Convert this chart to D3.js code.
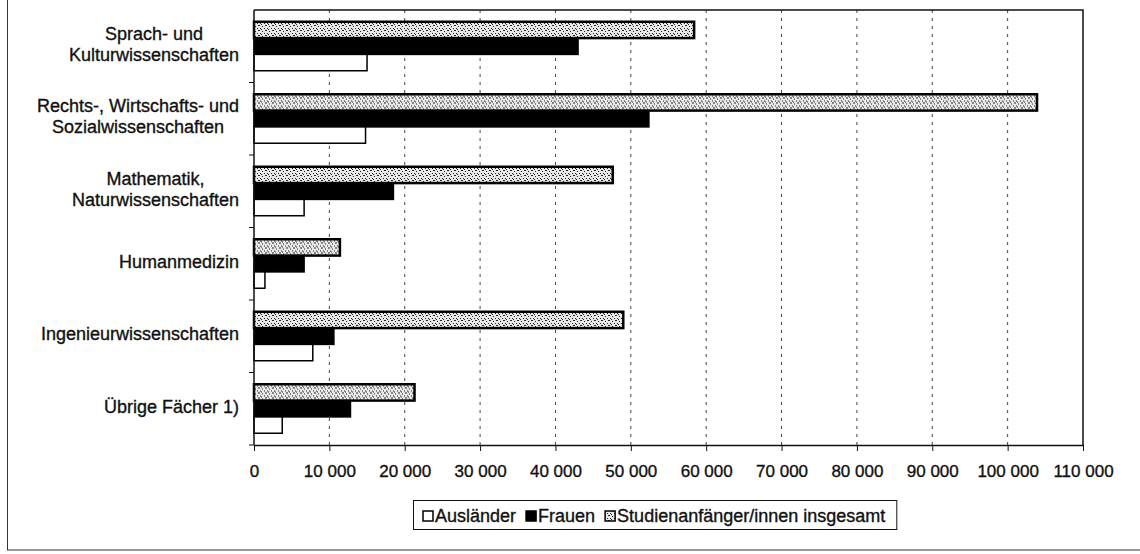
<!DOCTYPE html>
<html lang="de">
<head>
<meta charset="utf-8">
<title>Studienanfänger nach Fächergruppen</title>
<script src="https://cdn.jsdelivr.net/npm/d3@7"></script>
<style>
  body { margin: 0; background: #fff; }
  text { font-family: "Liberation Sans", Arial, sans-serif; fill: #111; stroke: #111; stroke-width: 0.35px; }
</style>
</head>
<body>
<script>
// Fächergruppen, von oben nach unten ("\n" = Zeilenumbruch in der Beschriftung)
var categories = [
  "Sprach- und\nKulturwissenschaften",
  "Rechts-, Wirtschafts- und\nSozialwissenschaften",
  "Mathematik,\nNaturwissenschaften",
  "Humanmedizin",
  "Ingenieurwissenschaften",
  "Übrige Fächer 1)"
];
var series = ["Ausländer", "Frauen", "Studienanfänger/innen insgesamt"];

// Werte je Fächergruppe
var auslaender = [15000, 14800, 6650, 1450, 7800, 3750];
var frauen     = [43000, 52400, 18500, 6650, 10600, 12800];
var insgesamt  = [58400, 103900, 47600, 11400, 49000, 21300];

var xTicks = [0, 10000, 20000, 30000, 40000, 50000, 60000, 70000, 80000, 90000, 100000, 110000];

var W = 1140, H = 554;
var plotL = 254, plotR = 1083, plotT = 10, plotB = 445;

var fmt = d3.formatLocale({ decimal: ",", thousands: " ", grouping: [3], currency: ["", " €"] }).format(",");

var svg = d3.select("body").append("svg")
  .attr("width", W)
  .attr("height", H);

// speckled fill for the total bars
var defs = svg.append("defs");
var pat = defs.append("pattern")
  .attr("id", "speckle")
  .attr("patternUnits", "userSpaceOnUse")
  .attr("width", 7).attr("height", 5);
pat.append("rect").attr("width", 7).attr("height", 5).attr("fill", "#e8e8e8");
[[0, 0], [3, 1], [5, 3], [1, 3], [6, 0], [2, 4]].forEach(function(p) {
  pat.append("rect").attr("x", p[0]).attr("y", p[1]).attr("width", 1).attr("height", 1).attr("fill", "#222");
});

// outer chart border (only left and bottom visible)
svg.append("rect")
  .attr("x", 7.5).attr("y", -5)
  .attr("width", 1150).attr("height", 555)
  .attr("fill", "none")
  .attr("stroke", "#333");

var x = d3.scaleLinear().domain([0, 110000]).range([plotL, plotR]);

var y0 = d3.scaleBand().domain(categories).range([plotT, plotB]);

// order inside a group from top: total, women, foreigners
var y1 = d3.scaleBand().domain([2, 1, 0]).range([0, y0.bandwidth()])
  .paddingInner(0).paddingOuter(0.72);

// gridlines
svg.append("g").selectAll("line")
  .data(xTicks.slice(1, -1))
  .enter().append("line")
  .attr("x1", function(d) { return x(d); })
  .attr("x2", function(d) { return x(d); })
  .attr("y1", plotT).attr("y2", plotB)
  .attr("stroke", "#444")
  .attr("stroke-width", 1)
  .attr("stroke-dasharray", "3,5");

// plot frame top + right
svg.append("path")
  .attr("d", "M" + plotL + "," + plotT + "H" + plotR + "V" + plotB)
  .attr("fill", "none")
  .attr("stroke", "#111")
  .attr("stroke-width", 1.5);

// bars
var values = [auslaender, frauen, insgesamt];
var fills = ["#fff", "#000", "url(#speckle)"];

var groups = svg.append("g").selectAll("g")
  .data(categories)
  .enter().append("g")
  .attr("transform", function(d) { return "translate(0," + y0(d) + ")"; });

groups.selectAll("rect")
  .data(function(d, i) { return [2, 1, 0].map(function(s) { return { s: s, v: values[s][i] }; }); })
  .enter().append("rect")
  .attr("x", x(0))
  .attr("y", function(d) { return y1(d.s); })
  .attr("width", function(d) { return x(d.v) - x(0); })
  .attr("height", y1.bandwidth())
  .attr("fill", function(d) { return fills[d.s]; })
  .attr("stroke", "#000")
  .attr("stroke-width", function(d) { return d.s == 2 ? 2.5 : 1.5; });

// x axis
var xAxis = svg.append("g")
  .attr("transform", "translate(0," + plotB + ")")
  .call(d3.axisBottom(x).tickValues(xTicks).tickFormat(fmt).tickSize(6).tickSizeOuter(0).tickPadding(14));
xAxis.select(".domain").attr("stroke", "#111").attr("stroke-width", 1.5);
xAxis.selectAll(".tick line").attr("stroke", "#111");
xAxis.selectAll("text").style("font-size", "17px").attr("fill", "#111");

// y axis line + ticks between categories
svg.append("line")
  .attr("x1", plotL).attr("x2", plotL)
  .attr("y1", plotT).attr("y2", plotB)
  .attr("stroke", "#111").attr("stroke-width", 1.5);
svg.append("g").selectAll("line")
  .data(categories)
  .enter().append("line")
  .attr("x1", plotL - 5).attr("x2", plotL)
  .attr("y1", function(d) { return y0(d) + y0.bandwidth(); })
  .attr("y2", function(d) { return y0(d) + y0.bandwidth(); })
  .attr("stroke", "#111");

// category labels, lines centred, block right-aligned
var lineH = 21;
categories.forEach(function(c) {
  var lines = c.split("\n");
  var cy = y0(c) + y0.bandwidth() / 2 - 2;
  var t = svg.append("text")
    .style("font-size", "18px")
    .attr("text-anchor", "middle");
  var spans = lines.map(function(l, i) {
    return t.append("tspan")
      .attr("y", cy + (i - (lines.length - 1) / 2) * lineH + 6)
      .text(l);
  });
  var maxW = d3.max(spans, function(s) { return s.node().getComputedTextLength(); });
  spans.forEach(function(s) { s.attr("x", 239 - maxW / 2); });
});

// legend
var legend = svg.append("g");
var lx = 423;
series.forEach(function(s, i) {
  legend.append("rect")
    .attr("x", lx).attr("y", 511)
    .attr("width", 10).attr("height", 10)
    .attr("fill", fills[i])
    .attr("stroke", "#000")
    .attr("stroke-width", 1.5);
  var t = legend.append("text")
    .attr("x", lx + 12).attr("y", 522)
    .style("font-size", "18px")
    .text(s);
  lx += 12 + t.node().getComputedTextLength() + 10;
});
legend.insert("rect", ":first-child")
  .attr("x", 413.5).attr("y", 500.5)
  .attr("width", lx - 413 + 1).attr("height", 29)
  .attr("fill", "#fff")
  .attr("stroke", "#111");
</script>
</body>
</html>
